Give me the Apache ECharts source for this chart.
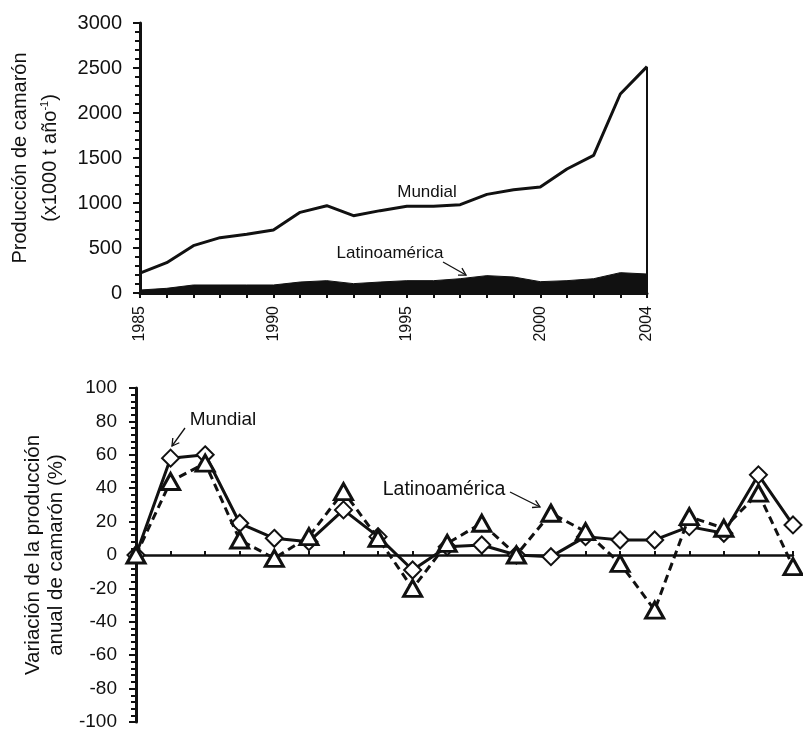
<!DOCTYPE html>
<html><head><meta charset="utf-8">
<script src="https://cdn.jsdelivr.net/npm/echarts@6/dist/echarts.min.js"></script>
<style>html,body{margin:0;padding:0;background:#fff}#c{width:803px;height:730px}</style>
</head><body><div id="c"></div>
<script>
const years = ['1985','1986','1987','1988','1989','1990','1991','1992','1993','1994','1995','1996','1997','1998','1999','2000','2001','2002','2003','2004'];
const yearLabels = ['1985','1990','1995','2000','2004'];
const mundialProd = [220,337,526,615,652,700,896,970,859,915,963,963,981,1096,1148,1178,1378,1530,2211,2515];
const latinoProd = [33,52,89,89,89,89,122,137,104,122,137,137,159,193,178,126,137,159,226,211];
const mundialVar = [0,58,60,19,10,8,27,11,-9,5,6,0,-1,11,9,9,17,13,48,18];
const latinoVar = [0,44,55,9,-2,11,38,10,-20,7,19,0,25,14,-5,-33,23,16,37,-7];

const FONT = 'Arial, "Liberation Sans", sans-serif';
const INK = '#111';

function arrow(x1,y1,x2,y2){
  const dx=x2-x1, dy=y2-y1, L=Math.hypot(dx,dy), ux=dx/L, uy=dy/L, h=8, a=Math.PI/6;
  const c=Math.cos(a), s=Math.sin(a);
  const p1=[x2-h*(ux*c-uy*s), y2-h*(uy*c+ux*s)];
  const p2=[x2-h*(ux*c+uy*s), y2-h*(uy*c-ux*s)];
  return [
    {type:'line',shape:{x1:x1,y1:y1,x2:x2,y2:y2},style:{stroke:INK,lineWidth:1.3}},
    {type:'polyline',shape:{points:[p1,[x2,y2],p2]},style:{stroke:INK,lineWidth:1.3,fill:null}}
  ];
}
function label(text,x,y,size){
  return {type:'text',x:x,y:y,style:{text:text,font:size+'px '+FONT,fill:INK,textAlign:'center',textVerticalAlign:'middle'}};
}

const chart = echarts.init(document.getElementById('c'));
chart.setOption({
  animation:false,
  backgroundColor:'#fff',
  grid:[
    {left:140,right:156,top:23,height:270,outerBoundsMode:'none',containLabel:false},
    {left:136,right:10,top:388,height:334,outerBoundsMode:'none',containLabel:false}
  ],
  xAxis:[
    {type:'category',gridIndex:0,data:years,boundaryGap:false,
     axisLine:{lineStyle:{color:INK,width:3}},
     axisTick:{show:true,interval:0,length:5,lineStyle:{color:INK,width:2}},
     axisLabel:{rotate:90,margin:13,color:INK,fontFamily:FONT,fontSize:16,
       interval:function(i,v){return yearLabels.indexOf(v)>=0;}},
     splitLine:{show:false}},
    {type:'category',gridIndex:1,data:years,boundaryGap:false,
     axisLine:{onZero:true,lineStyle:{color:INK,width:2.5}},
     axisTick:{show:true,interval:0,length:4,inside:true,lineStyle:{color:INK,width:2}},
     axisLabel:{show:false},splitLine:{show:false}}
  ],
  yAxis:[
    {type:'value',gridIndex:0,min:0,max:3000,interval:500,
     axisLine:{show:true,lineStyle:{color:INK,width:3}},
     axisTick:{show:true,length:7,lineStyle:{color:INK,width:2}},
     minorTick:{show:true,splitNumber:5,length:5,lineStyle:{color:INK,width:2}},
     axisLabel:{margin:18,color:INK,fontFamily:FONT,fontSize:20,formatter:function(v){return String(v);}},
     splitLine:{show:false},
     name:'Producción de camarón\n(x1000 t año{sup|-1})',nameLocation:'middle',nameRotate:90,nameGap:75,
     nameTextStyle:{color:INK,fontFamily:FONT,fontSize:20,lineHeight:30,
       rich:{sup:{fontSize:11,fontFamily:FONT,color:INK,padding:[0,0,11,0]}}}},
    {type:'value',gridIndex:1,min:-100,max:100,interval:20,
     axisLine:{show:true,onZero:false,lineStyle:{color:INK,width:3}},
     axisTick:{show:true,length:7,lineStyle:{color:INK,width:2}},
     minorTick:{show:true,splitNumber:5,length:5,lineStyle:{color:INK,width:2}},
     axisLabel:{margin:19,color:INK,fontFamily:FONT,fontSize:19},
     splitLine:{show:false},
     name:'Variación de la producción\nanual de camarón (%)',nameLocation:'middle',nameRotate:90,nameGap:66,
     nameTextStyle:{color:INK,fontFamily:FONT,fontSize:20.5,lineHeight:23}}
  ],
  series:[
    {type:'line',xAxisIndex:0,yAxisIndex:0,data:mundialProd,symbol:'none',
     lineStyle:{color:INK,width:3},z:3,
     markLine:{symbol:'none',silent:true,label:{show:false},lineStyle:{color:INK,width:2,type:'solid'},
       data:[[{coord:[years[years.length-1],0]},{coord:[years[years.length-1],mundialProd[mundialProd.length-1]]}]]}},
    {type:'line',xAxisIndex:0,yAxisIndex:0,data:latinoProd,symbol:'none',
     lineStyle:{color:INK,width:1},areaStyle:{color:INK,opacity:1},z:2},
    {type:'line',xAxisIndex:1,yAxisIndex:1,data:mundialVar,symbol:'diamond',symbolSize:[17,17],
     lineStyle:{color:INK,width:3},itemStyle:{color:'#fff',borderColor:INK,borderWidth:2},z:3},
    {type:'line',xAxisIndex:1,yAxisIndex:1,data:latinoVar,symbol:'triangle',symbolSize:[18,16],
     lineStyle:{color:INK,width:3,type:[8,5]},itemStyle:{color:'#fff',borderColor:INK,borderWidth:3},z:4}
  ],
  graphic:[
    label('Mundial',427,192,17),
    label('Latinoamérica',390,253,17),
    ...arrow(443,262,466,275),
    label('Mundial',223,420,19),
    ...arrow(185,428,172,446),
    label('Latinoamérica',444,490,19.5),
    ...arrow(510,492,540,507)
  ]
});
</script></body></html>
